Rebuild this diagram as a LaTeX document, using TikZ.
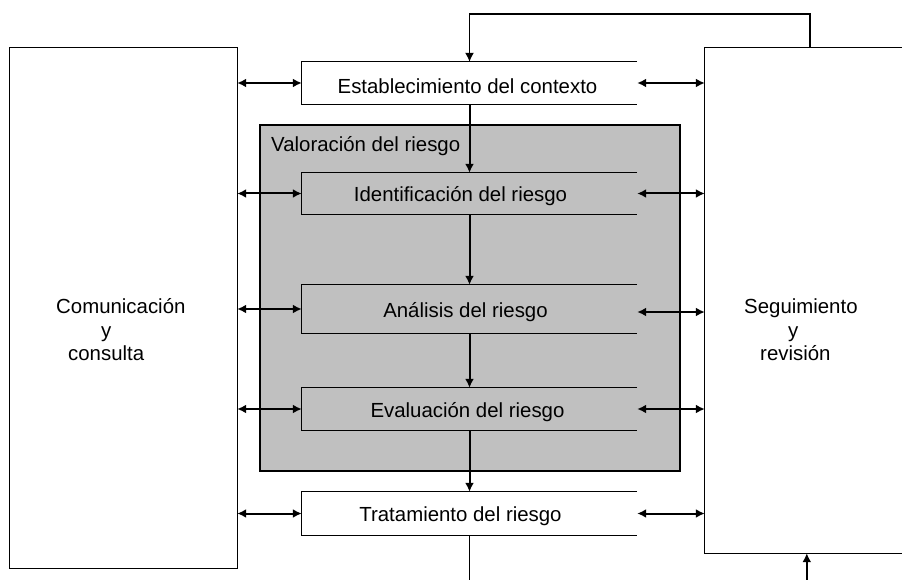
\documentclass[tikz,border=0pt]{standalone}
\usepackage{fontspec}
\setmainfont{Liberation Sans}
\usetikzlibrary{arrows.meta,calc}
\definecolor{panel}{HTML}{C0C0C0}
\newcommand{\lowtext}[2]{\raisebox{-3pt}[\height][\depth]{#2\hspace*{#1}}}
\tikzset{
  stagebox/.style={rectangle, draw=none, minimum width=335pt, inner sep=0pt, font=\fontsize{20.4}{23.5}\selectfont},
  sidebox/.style={rectangle, draw=none, inner sep=0pt, font=\fontsize{20.4}{23.5}\selectfont},
  border/.style={line width=1.3pt, draw=black},
  link/.style={line width=2pt, {Latex[length=9pt,width=9pt]}-{Latex[length=9pt,width=9pt]}},
  flow/.style={line width=2pt, -{Latex[length=9pt,width=9pt]}},
  thin flow/.style={line width=1.4pt, -{Latex[length=9pt,width=9pt]}},
}
\begin{document}
\begin{tikzpicture}[x=1pt,y=-1pt]
\useasboundingbox (0,0) rectangle (902,580);
% side boxes
\node[sidebox, minimum width=227pt, minimum height=520pt] (com) at (123.5,308) {};
\draw[border] (com.north west) rectangle (com.south east);
\node[sidebox, align=left, anchor=west] (comtxt) at (56,330) {Comunicación\\\hspace*{45pt}y\\\hspace*{12pt}consulta};
\node[sidebox, minimum width=197pt, minimum height=505pt] (seg) at (803.5,300.5) {};
\draw[border] (seg.north east) -- (seg.north west) -- (seg.south west) -- (seg.south east);
\node[sidebox, align=left, anchor=west] (segtxt) at (744,330) {Seguimiento\\\hspace*{44pt}y\\\hspace*{16pt}revisión};
% grey panel
\node[rectangle, fill=panel, border, minimum width=420pt, minimum height=346pt, inner sep=0pt] (val) at (470,298) {};
\node[sidebox, anchor=north west] (valtxt) at (271,136) {Valoración del riesgo};
% stages
\node[stagebox, fill=white, minimum height=42pt] (est) at (469.5,83) {\lowtext{4pt}{Establecimiento del contexto}};
\node[stagebox, minimum height=41pt] (ide) at (469.5,193.5) {\lowtext{18pt}{Identificación del riesgo}};
\node[stagebox, minimum height=48pt] (ana) at (469.5,309) {\lowtext{8pt}{Análisis del riesgo}};
\node[stagebox, minimum height=42pt] (eva) at (469.5,409) {\lowtext{4pt}{Evaluación del riesgo}};
\node[stagebox, fill=white, minimum height=43pt] (tra) at (469.5,513.5) {\lowtext{18pt}{Tratamiento del riesgo}};
\foreach \n in {est,ide,ana,eva,tra}{
  \draw[border] (\n.north east) -- (\n.north west) -- (\n.south west) -- (\n.south east);
}
% left links
\foreach \n in {est,ide,ana,eva,tra}{
  \draw[link] (com.east |- \n.west) -- (\n.west);
}
% right links
\draw[link] (est.east) -- (seg.west |- est.east);
\draw[link] (ide.east) -- (seg.west |- ide.east);
\draw[link] ($(ana.east)+(0,3)$) -- ($(seg.west |- ana.east)+(0,3)$);
\draw[link] (eva.east) -- (seg.west |- eva.east);
\draw[link] (tra.east) -- (seg.west |- tra.east);
% main flow
\draw[flow] (est.south) -- (ide.north);
\draw[flow] (ide.south) -- (ana.north);
\draw[flow] (ana.south) -- (eva.north);
\draw[flow] (eva.south) -- (tra.north);
% feedback loop
\coordinate (segtop) at ($(seg.north west)+(105,0)$);
\coordinate (fb) at (0,14);
\draw[thin flow] (segtop) |- (fb -| est.north) -- (est.north);
\coordinate (bot) at (0,580);
\draw[border] (tra.south) -- (bot -| tra.south);
\coordinate (segin) at ($(seg.south west)+(102,0)$);
\draw[flow] (bot -| segin) -- (segin);
\end{tikzpicture}
\end{document}
